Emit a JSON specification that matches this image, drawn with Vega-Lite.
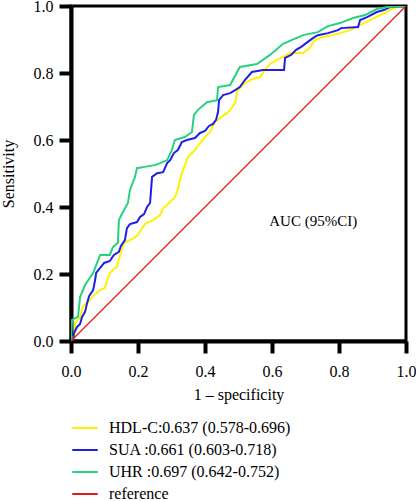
{
  "$schema": "https://vega.github.io/schema/vega-lite/v6.json",
  "autosize": {"type": "none"},
  "width": 335,
  "height": 335,
  "padding": {"left": 71, "top": 6, "right": 10, "bottom": 160},
  "background": "white",
  "view": {"stroke": "black", "strokeWidth": 3},
  "config": {
    "font": "Liberation Serif"
  },
  "datasets": {
    "roc": [
      {"s": "HDL-C:0.637 (0.578-0.696)", "i": 0, "x": 0, "y": 0},
      {"s": "HDL-C:0.637 (0.578-0.696)", "i": 1, "x": 0.003, "y": 0.003},
      {"s": "HDL-C:0.637 (0.578-0.696)", "i": 2, "x": 0.012, "y": 0.024},
      {"s": "HDL-C:0.637 (0.578-0.696)", "i": 3, "x": 0.012, "y": 0.054},
      {"s": "HDL-C:0.637 (0.578-0.696)", "i": 4, "x": 0.027, "y": 0.069},
      {"s": "HDL-C:0.637 (0.578-0.696)", "i": 5, "x": 0.036, "y": 0.104},
      {"s": "HDL-C:0.637 (0.578-0.696)", "i": 6, "x": 0.051, "y": 0.116},
      {"s": "HDL-C:0.637 (0.578-0.696)", "i": 7, "x": 0.066, "y": 0.134},
      {"s": "HDL-C:0.637 (0.578-0.696)", "i": 8, "x": 0.087, "y": 0.152},
      {"s": "HDL-C:0.637 (0.578-0.696)", "i": 9, "x": 0.101, "y": 0.158},
      {"s": "HDL-C:0.637 (0.578-0.696)", "i": 10, "x": 0.107, "y": 0.179},
      {"s": "HDL-C:0.637 (0.578-0.696)", "i": 11, "x": 0.116, "y": 0.203},
      {"s": "HDL-C:0.637 (0.578-0.696)", "i": 12, "x": 0.128, "y": 0.215},
      {"s": "HDL-C:0.637 (0.578-0.696)", "i": 13, "x": 0.137, "y": 0.221},
      {"s": "HDL-C:0.637 (0.578-0.696)", "i": 14, "x": 0.146, "y": 0.254},
      {"s": "HDL-C:0.637 (0.578-0.696)", "i": 15, "x": 0.152, "y": 0.275},
      {"s": "HDL-C:0.637 (0.578-0.696)", "i": 16, "x": 0.158, "y": 0.293},
      {"s": "HDL-C:0.637 (0.578-0.696)", "i": 17, "x": 0.182, "y": 0.304},
      {"s": "HDL-C:0.637 (0.578-0.696)", "i": 18, "x": 0.2, "y": 0.316},
      {"s": "HDL-C:0.637 (0.578-0.696)", "i": 19, "x": 0.212, "y": 0.337},
      {"s": "HDL-C:0.637 (0.578-0.696)", "i": 20, "x": 0.224, "y": 0.352},
      {"s": "HDL-C:0.637 (0.578-0.696)", "i": 21, "x": 0.245, "y": 0.361},
      {"s": "HDL-C:0.637 (0.578-0.696)", "i": 22, "x": 0.266, "y": 0.376},
      {"s": "HDL-C:0.637 (0.578-0.696)", "i": 23, "x": 0.275, "y": 0.397},
      {"s": "HDL-C:0.637 (0.578-0.696)", "i": 24, "x": 0.29, "y": 0.409},
      {"s": "HDL-C:0.637 (0.578-0.696)", "i": 25, "x": 0.31, "y": 0.43},
      {"s": "HDL-C:0.637 (0.578-0.696)", "i": 26, "x": 0.319, "y": 0.451},
      {"s": "HDL-C:0.637 (0.578-0.696)", "i": 27, "x": 0.325, "y": 0.481},
      {"s": "HDL-C:0.637 (0.578-0.696)", "i": 28, "x": 0.331, "y": 0.501},
      {"s": "HDL-C:0.637 (0.578-0.696)", "i": 29, "x": 0.34, "y": 0.525},
      {"s": "HDL-C:0.637 (0.578-0.696)", "i": 30, "x": 0.349, "y": 0.549},
      {"s": "HDL-C:0.637 (0.578-0.696)", "i": 31, "x": 0.37, "y": 0.57},
      {"s": "HDL-C:0.637 (0.578-0.696)", "i": 32, "x": 0.385, "y": 0.591},
      {"s": "HDL-C:0.637 (0.578-0.696)", "i": 33, "x": 0.4, "y": 0.609},
      {"s": "HDL-C:0.637 (0.578-0.696)", "i": 34, "x": 0.415, "y": 0.624},
      {"s": "HDL-C:0.637 (0.578-0.696)", "i": 35, "x": 0.43, "y": 0.654},
      {"s": "HDL-C:0.637 (0.578-0.696)", "i": 36, "x": 0.445, "y": 0.666},
      {"s": "HDL-C:0.637 (0.578-0.696)", "i": 37, "x": 0.466, "y": 0.681},
      {"s": "HDL-C:0.637 (0.578-0.696)", "i": 38, "x": 0.475, "y": 0.69},
      {"s": "HDL-C:0.637 (0.578-0.696)", "i": 39, "x": 0.49, "y": 0.71},
      {"s": "HDL-C:0.637 (0.578-0.696)", "i": 40, "x": 0.496, "y": 0.746},
      {"s": "HDL-C:0.637 (0.578-0.696)", "i": 41, "x": 0.504, "y": 0.755},
      {"s": "HDL-C:0.637 (0.578-0.696)", "i": 42, "x": 0.519, "y": 0.77},
      {"s": "HDL-C:0.637 (0.578-0.696)", "i": 43, "x": 0.543, "y": 0.782},
      {"s": "HDL-C:0.637 (0.578-0.696)", "i": 44, "x": 0.564, "y": 0.788},
      {"s": "HDL-C:0.637 (0.578-0.696)", "i": 45, "x": 0.579, "y": 0.809},
      {"s": "HDL-C:0.637 (0.578-0.696)", "i": 46, "x": 0.594, "y": 0.827},
      {"s": "HDL-C:0.637 (0.578-0.696)", "i": 47, "x": 0.615, "y": 0.839},
      {"s": "HDL-C:0.637 (0.578-0.696)", "i": 48, "x": 0.633, "y": 0.848},
      {"s": "HDL-C:0.637 (0.578-0.696)", "i": 49, "x": 0.654, "y": 0.86},
      {"s": "HDL-C:0.637 (0.578-0.696)", "i": 50, "x": 0.693, "y": 0.86},
      {"s": "HDL-C:0.637 (0.578-0.696)", "i": 51, "x": 0.713, "y": 0.875},
      {"s": "HDL-C:0.637 (0.578-0.696)", "i": 52, "x": 0.725, "y": 0.896},
      {"s": "HDL-C:0.637 (0.578-0.696)", "i": 53, "x": 0.749, "y": 0.907},
      {"s": "HDL-C:0.637 (0.578-0.696)", "i": 54, "x": 0.779, "y": 0.913},
      {"s": "HDL-C:0.637 (0.578-0.696)", "i": 55, "x": 0.803, "y": 0.919},
      {"s": "HDL-C:0.637 (0.578-0.696)", "i": 56, "x": 0.833, "y": 0.928},
      {"s": "HDL-C:0.637 (0.578-0.696)", "i": 57, "x": 0.863, "y": 0.943},
      {"s": "HDL-C:0.637 (0.578-0.696)", "i": 58, "x": 0.893, "y": 0.958},
      {"s": "HDL-C:0.637 (0.578-0.696)", "i": 59, "x": 0.922, "y": 0.973},
      {"s": "HDL-C:0.637 (0.578-0.696)", "i": 60, "x": 0.943, "y": 0.982},
      {"s": "HDL-C:0.637 (0.578-0.696)", "i": 61, "x": 0.961, "y": 0.994},
      {"s": "HDL-C:0.637 (0.578-0.696)", "i": 62, "x": 0.991, "y": 1},
      {"s": "HDL-C:0.637 (0.578-0.696)", "i": 63, "x": 1, "y": 1},

      {"s": "SUA :0.661 (0.603-0.718)", "i": 0, "x": 0, "y": 0},
      {"s": "SUA :0.661 (0.603-0.718)", "i": 1, "x": 0.006, "y": 0.003},
      {"s": "SUA :0.661 (0.603-0.718)", "i": 2, "x": 0.009, "y": 0.024},
      {"s": "SUA :0.661 (0.603-0.718)", "i": 3, "x": 0.018, "y": 0.042},
      {"s": "SUA :0.661 (0.603-0.718)", "i": 4, "x": 0.027, "y": 0.051},
      {"s": "SUA :0.661 (0.603-0.718)", "i": 5, "x": 0.033, "y": 0.072},
      {"s": "SUA :0.661 (0.603-0.718)", "i": 6, "x": 0.042, "y": 0.087},
      {"s": "SUA :0.661 (0.603-0.718)", "i": 7, "x": 0.048, "y": 0.113},
      {"s": "SUA :0.661 (0.603-0.718)", "i": 8, "x": 0.054, "y": 0.134},
      {"s": "SUA :0.661 (0.603-0.718)", "i": 9, "x": 0.066, "y": 0.152},
      {"s": "SUA :0.661 (0.603-0.718)", "i": 10, "x": 0.072, "y": 0.182},
      {"s": "SUA :0.661 (0.603-0.718)", "i": 11, "x": 0.075, "y": 0.203},
      {"s": "SUA :0.661 (0.603-0.718)", "i": 12, "x": 0.087, "y": 0.218},
      {"s": "SUA :0.661 (0.603-0.718)", "i": 13, "x": 0.099, "y": 0.233},
      {"s": "SUA :0.661 (0.603-0.718)", "i": 14, "x": 0.116, "y": 0.239},
      {"s": "SUA :0.661 (0.603-0.718)", "i": 15, "x": 0.128, "y": 0.257},
      {"s": "SUA :0.661 (0.603-0.718)", "i": 16, "x": 0.143, "y": 0.266},
      {"s": "SUA :0.661 (0.603-0.718)", "i": 17, "x": 0.149, "y": 0.284},
      {"s": "SUA :0.661 (0.603-0.718)", "i": 18, "x": 0.161, "y": 0.301},
      {"s": "SUA :0.661 (0.603-0.718)", "i": 19, "x": 0.167, "y": 0.337},
      {"s": "SUA :0.661 (0.603-0.718)", "i": 20, "x": 0.176, "y": 0.349},
      {"s": "SUA :0.661 (0.603-0.718)", "i": 21, "x": 0.197, "y": 0.355},
      {"s": "SUA :0.661 (0.603-0.718)", "i": 22, "x": 0.206, "y": 0.37},
      {"s": "SUA :0.661 (0.603-0.718)", "i": 23, "x": 0.218, "y": 0.379},
      {"s": "SUA :0.661 (0.603-0.718)", "i": 24, "x": 0.227, "y": 0.4},
      {"s": "SUA :0.661 (0.603-0.718)", "i": 25, "x": 0.236, "y": 0.412},
      {"s": "SUA :0.661 (0.603-0.718)", "i": 26, "x": 0.242, "y": 0.49},
      {"s": "SUA :0.661 (0.603-0.718)", "i": 27, "x": 0.257, "y": 0.501},
      {"s": "SUA :0.661 (0.603-0.718)", "i": 28, "x": 0.275, "y": 0.504},
      {"s": "SUA :0.661 (0.603-0.718)", "i": 29, "x": 0.287, "y": 0.531},
      {"s": "SUA :0.661 (0.603-0.718)", "i": 30, "x": 0.296, "y": 0.54},
      {"s": "SUA :0.661 (0.603-0.718)", "i": 31, "x": 0.307, "y": 0.561},
      {"s": "SUA :0.661 (0.603-0.718)", "i": 32, "x": 0.319, "y": 0.57},
      {"s": "SUA :0.661 (0.603-0.718)", "i": 33, "x": 0.331, "y": 0.594},
      {"s": "SUA :0.661 (0.603-0.718)", "i": 34, "x": 0.346, "y": 0.6},
      {"s": "SUA :0.661 (0.603-0.718)", "i": 35, "x": 0.37, "y": 0.606},
      {"s": "SUA :0.661 (0.603-0.718)", "i": 36, "x": 0.385, "y": 0.621},
      {"s": "SUA :0.661 (0.603-0.718)", "i": 37, "x": 0.4, "y": 0.627},
      {"s": "SUA :0.661 (0.603-0.718)", "i": 38, "x": 0.412, "y": 0.642},
      {"s": "SUA :0.661 (0.603-0.718)", "i": 39, "x": 0.424, "y": 0.648},
      {"s": "SUA :0.661 (0.603-0.718)", "i": 40, "x": 0.433, "y": 0.66},
      {"s": "SUA :0.661 (0.603-0.718)", "i": 41, "x": 0.439, "y": 0.684},
      {"s": "SUA :0.661 (0.603-0.718)", "i": 42, "x": 0.442, "y": 0.719},
      {"s": "SUA :0.661 (0.603-0.718)", "i": 43, "x": 0.454, "y": 0.734},
      {"s": "SUA :0.661 (0.603-0.718)", "i": 44, "x": 0.475, "y": 0.74},
      {"s": "SUA :0.661 (0.603-0.718)", "i": 45, "x": 0.49, "y": 0.749},
      {"s": "SUA :0.661 (0.603-0.718)", "i": 46, "x": 0.504, "y": 0.758},
      {"s": "SUA :0.661 (0.603-0.718)", "i": 47, "x": 0.519, "y": 0.779},
      {"s": "SUA :0.661 (0.603-0.718)", "i": 48, "x": 0.54, "y": 0.803},
      {"s": "SUA :0.661 (0.603-0.718)", "i": 49, "x": 0.573, "y": 0.809},
      {"s": "SUA :0.661 (0.603-0.718)", "i": 50, "x": 0.636, "y": 0.809},
      {"s": "SUA :0.661 (0.603-0.718)", "i": 51, "x": 0.639, "y": 0.845},
      {"s": "SUA :0.661 (0.603-0.718)", "i": 52, "x": 0.657, "y": 0.854},
      {"s": "SUA :0.661 (0.603-0.718)", "i": 53, "x": 0.672, "y": 0.869},
      {"s": "SUA :0.661 (0.603-0.718)", "i": 54, "x": 0.687, "y": 0.878},
      {"s": "SUA :0.661 (0.603-0.718)", "i": 55, "x": 0.707, "y": 0.893},
      {"s": "SUA :0.661 (0.603-0.718)", "i": 56, "x": 0.722, "y": 0.904},
      {"s": "SUA :0.661 (0.603-0.718)", "i": 57, "x": 0.737, "y": 0.913},
      {"s": "SUA :0.661 (0.603-0.718)", "i": 58, "x": 0.767, "y": 0.919},
      {"s": "SUA :0.661 (0.603-0.718)", "i": 59, "x": 0.797, "y": 0.928},
      {"s": "SUA :0.661 (0.603-0.718)", "i": 60, "x": 0.806, "y": 0.934},
      {"s": "SUA :0.661 (0.603-0.718)", "i": 61, "x": 0.857, "y": 0.937},
      {"s": "SUA :0.661 (0.603-0.718)", "i": 62, "x": 0.863, "y": 0.958},
      {"s": "SUA :0.661 (0.603-0.718)", "i": 63, "x": 0.884, "y": 0.967},
      {"s": "SUA :0.661 (0.603-0.718)", "i": 64, "x": 0.913, "y": 0.982},
      {"s": "SUA :0.661 (0.603-0.718)", "i": 65, "x": 0.934, "y": 0.988},
      {"s": "SUA :0.661 (0.603-0.718)", "i": 66, "x": 0.952, "y": 0.997},
      {"s": "SUA :0.661 (0.603-0.718)", "i": 67, "x": 1, "y": 1},

      {"s": "UHR :0.697 (0.642-0.752)", "i": 0, "x": 0, "y": 0},
      {"s": "UHR :0.697 (0.642-0.752)", "i": 1, "x": 0.003, "y": 0.063},
      {"s": "UHR :0.697 (0.642-0.752)", "i": 2, "x": 0.021, "y": 0.072},
      {"s": "UHR :0.697 (0.642-0.752)", "i": 3, "x": 0.027, "y": 0.131},
      {"s": "UHR :0.697 (0.642-0.752)", "i": 4, "x": 0.042, "y": 0.167},
      {"s": "UHR :0.697 (0.642-0.752)", "i": 5, "x": 0.066, "y": 0.203},
      {"s": "UHR :0.697 (0.642-0.752)", "i": 6, "x": 0.087, "y": 0.257},
      {"s": "UHR :0.697 (0.642-0.752)", "i": 7, "x": 0.116, "y": 0.257},
      {"s": "UHR :0.697 (0.642-0.752)", "i": 8, "x": 0.125, "y": 0.28},
      {"s": "UHR :0.697 (0.642-0.752)", "i": 9, "x": 0.14, "y": 0.293},
      {"s": "UHR :0.697 (0.642-0.752)", "i": 10, "x": 0.143, "y": 0.361},
      {"s": "UHR :0.697 (0.642-0.752)", "i": 11, "x": 0.155, "y": 0.385},
      {"s": "UHR :0.697 (0.642-0.752)", "i": 12, "x": 0.17, "y": 0.412},
      {"s": "UHR :0.697 (0.642-0.752)", "i": 13, "x": 0.176, "y": 0.451},
      {"s": "UHR :0.697 (0.642-0.752)", "i": 14, "x": 0.191, "y": 0.49},
      {"s": "UHR :0.697 (0.642-0.752)", "i": 15, "x": 0.197, "y": 0.516},
      {"s": "UHR :0.697 (0.642-0.752)", "i": 16, "x": 0.215, "y": 0.519},
      {"s": "UHR :0.697 (0.642-0.752)", "i": 17, "x": 0.25, "y": 0.525},
      {"s": "UHR :0.697 (0.642-0.752)", "i": 18, "x": 0.266, "y": 0.531},
      {"s": "UHR :0.697 (0.642-0.752)", "i": 19, "x": 0.287, "y": 0.54},
      {"s": "UHR :0.697 (0.642-0.752)", "i": 20, "x": 0.301, "y": 0.57},
      {"s": "UHR :0.697 (0.642-0.752)", "i": 21, "x": 0.31, "y": 0.6},
      {"s": "UHR :0.697 (0.642-0.752)", "i": 22, "x": 0.34, "y": 0.609},
      {"s": "UHR :0.697 (0.642-0.752)", "i": 23, "x": 0.361, "y": 0.624},
      {"s": "UHR :0.697 (0.642-0.752)", "i": 24, "x": 0.367, "y": 0.675},
      {"s": "UHR :0.697 (0.642-0.752)", "i": 25, "x": 0.379, "y": 0.69},
      {"s": "UHR :0.697 (0.642-0.752)", "i": 26, "x": 0.406, "y": 0.713},
      {"s": "UHR :0.697 (0.642-0.752)", "i": 27, "x": 0.436, "y": 0.719},
      {"s": "UHR :0.697 (0.642-0.752)", "i": 28, "x": 0.439, "y": 0.758},
      {"s": "UHR :0.697 (0.642-0.752)", "i": 29, "x": 0.475, "y": 0.764},
      {"s": "UHR :0.697 (0.642-0.752)", "i": 30, "x": 0.504, "y": 0.818},
      {"s": "UHR :0.697 (0.642-0.752)", "i": 31, "x": 0.555, "y": 0.827},
      {"s": "UHR :0.697 (0.642-0.752)", "i": 32, "x": 0.594, "y": 0.854},
      {"s": "UHR :0.697 (0.642-0.752)", "i": 33, "x": 0.633, "y": 0.887},
      {"s": "UHR :0.697 (0.642-0.752)", "i": 34, "x": 0.66, "y": 0.899},
      {"s": "UHR :0.697 (0.642-0.752)", "i": 35, "x": 0.693, "y": 0.913},
      {"s": "UHR :0.697 (0.642-0.752)", "i": 36, "x": 0.737, "y": 0.922},
      {"s": "UHR :0.697 (0.642-0.752)", "i": 37, "x": 0.767, "y": 0.94},
      {"s": "UHR :0.697 (0.642-0.752)", "i": 38, "x": 0.803, "y": 0.949},
      {"s": "UHR :0.697 (0.642-0.752)", "i": 39, "x": 0.842, "y": 0.964},
      {"s": "UHR :0.697 (0.642-0.752)", "i": 40, "x": 0.878, "y": 0.973},
      {"s": "UHR :0.697 (0.642-0.752)", "i": 41, "x": 0.913, "y": 0.991},
      {"s": "UHR :0.697 (0.642-0.752)", "i": 42, "x": 0.943, "y": 0.997},
      {"s": "UHR :0.697 (0.642-0.752)", "i": 43, "x": 1, "y": 1}
    ],
    "ref": [
      {"s": "reference", "i": 0, "x": 0, "y": 0},
      {"s": "reference", "i": 1, "x": 1, "y": 1}
    ],
    "note": [
      {"x": 0.723, "y": 0.358, "label": "AUC (95%CI)"}
    ]
  },
  "encoding": {
    "x": {"field": "x", "type": "quantitative", "scale": {"domain": [0, 1], "nice": false},
          "axis": {"title": "1 – specificity", "values": [0, 0.2, 0.4, 0.6, 0.8, 1.0], "format": ".1f", "labelFlush": false,
                   "grid": false, "domainColor": "#000000", "domainWidth": 4, "tickColor": "#000000", "tickWidth": 4, "tickSize": 12,
                   "labelFont": "Liberation Serif", "labelFontSize": 16, "labelColor": "#000000", "labelPadding": 10,
                   "titleFont": "Liberation Serif", "titleFontSize": 16, "titleFontWeight": "normal", "titleColor": "#000000", "titlePadding": 7}},
    "y": {"field": "y", "type": "quantitative", "scale": {"domain": [0, 1], "nice": false},
          "axis": {"title": "Sensitivity", "values": [0, 0.2, 0.4, 0.6, 0.8, 1.0], "format": ".1f", "labelFlush": false,
                   "grid": false, "domainColor": "#000000", "domainWidth": 4, "tickColor": "#000000", "tickWidth": 4, "tickSize": 12,
                   "labelFont": "Liberation Serif", "labelFontSize": 16, "labelColor": "#000000", "labelPadding": 6,
                   "titleFont": "Liberation Serif", "titleFontSize": 16, "titleFontWeight": "normal", "titleColor": "#000000", "titlePadding": 17}}
  },
  "layer": [
    {
      "data": {"name": "roc"},
      "mark": {"type": "line", "clip": true, "strokeWidth": 2},
      "encoding": {
        "color": {"field": "s", "type": "nominal",
          "scale": {"domain": ["HDL-C:0.637 (0.578-0.696)", "SUA :0.661 (0.603-0.718)", "UHR :0.697 (0.642-0.752)", "reference"],
                    "range": ["#FFF200", "#1F1FE6", "#25D27E", "#E31A1C"]},
          "legend": {"title": null, "orient": "none", "legendX": 0, "legendY": 408, "symbolType": "stroke", "symbolSize": 650, "symbolStrokeWidth": 2,
                     "labelOffset": 10, "rowPadding": -5, "labelLimit": 400, "labelFont": "Liberation Serif", "labelFontSize": 16, "labelColor": "#000000"}},
        "order": {"field": "i", "type": "quantitative"}
      }
    },
    {
      "data": {"name": "ref"},
      "mark": {"type": "line", "strokeWidth": 1.2},
      "encoding": {
        "color": {"field": "s", "type": "nominal"},
        "order": {"field": "i", "type": "quantitative"}
      }
    },
    {
      "data": {"name": "note"},
      "mark": {"type": "text", "fontSize": 15, "font": "Liberation Serif", "color": "black"},
      "encoding": {
        "text": {"field": "label"}
      }
    }
  ]
}
